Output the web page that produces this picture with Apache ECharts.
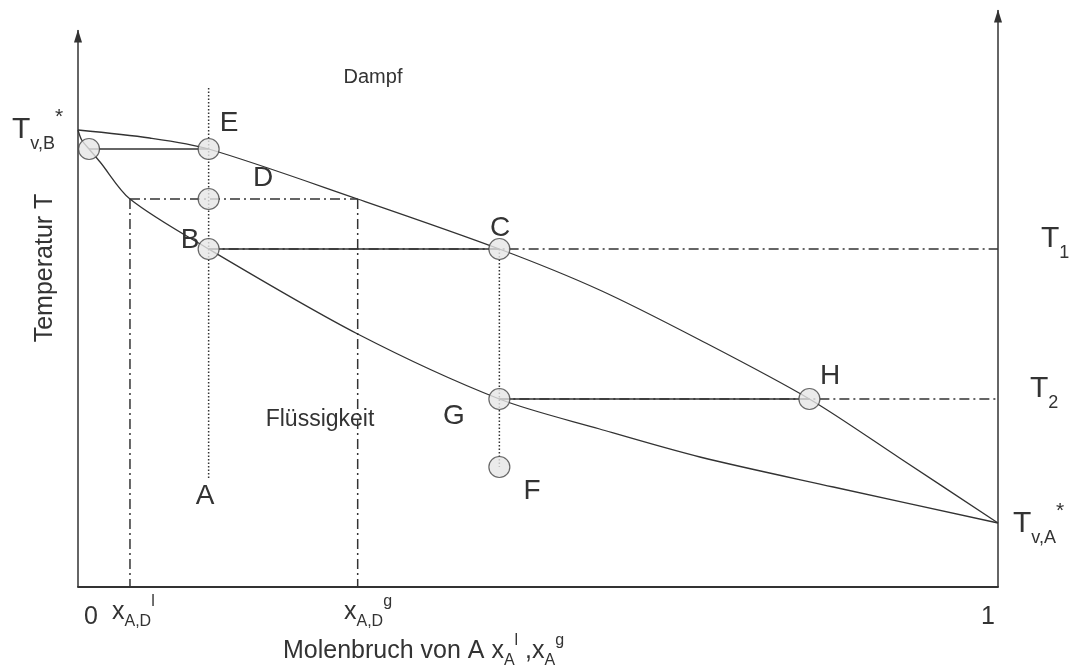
<!DOCTYPE html>
<html>
<head>
<meta charset="utf-8">
<script src="https://cdn.jsdelivr.net/npm/echarts@6/dist/echarts.min.js"></script>
<style>
  html, body { margin: 0; padding: 0; background: #fff; }
  #chart { width: 1075px; height: 671px; }
</style>
</head>
<body>
<div id="chart"></div>
<script>
// Siedediagramm: Molenbruch x_A (0..1), Temperatur in willkuerlichen Einheiten
const dewCurve = [[0, 457], [0.078, 449], [0.142, 438], [0.304, 388],
  [0.458, 338], [0.567, 297], [0.676, 247], [0.795, 188], [0.893, 129], [1, 64]];
const boilCurve = [[0, 457], [0.004, 447], [0.012, 438], [0.024, 425], [0.0565, 388], [0.142, 338],
  [0.304, 253], [0.458, 188], [0.567, 158], [0.676, 130], [0.821, 100], [1, 64]];

// Zusammensetzungen
const xLeft = 0.012, xA = 0.142, xDl = 0.0565, xDg = 0.304, xC = 0.458, xH = 0.795;
// Temperaturen
const TE = 438, TD = 388, T1 = 338, T2 = 188, TF = 120;
const dottedA = [[xA, 499], [xA, 109]];
const dottedC = [[xC, T1], [xC, TF]];
const points = [[xLeft, TE], [xA, TE], [xA, TD], [xA, T1], [xC, T1], [xC, T2], [xC, TF], [xH, T2]];
const yTop = 577, yLeftTop = 557;

const ink = '#333';
const dashDot = [10, 4, 2, 4];

function seg(data, type, width) {
  return {
    type: 'line', data, symbol: 'none', silent: true, z: 2,
    lineStyle: { color: ink, width: width || 1.3, type: type || 'solid' },
  };
}

function axisLine(x, top) {
  return {
    type: 'line', symbol: 'none', silent: true, z: 3,
    lineStyle: { color: ink, width: 1.5 },
    itemStyle: { color: ink },
    data: [[x, 0], { value: [x, top], symbol: 'triangle', symbolSize: [8, 13], symbolOffset: [0, 6] }],
  };
}

const font = '"Liberation Sans", Arial, sans-serif';
const rich = {
  m: { fontSize: 30, lineHeight: 46, fontFamily: font, fill: ink, verticalAlign: 'middle' },
  s: { fontSize: 18, lineHeight: 18, fontFamily: font, fill: ink, verticalAlign: 'bottom' },
  p: { fontSize: 21, lineHeight: 21, fontFamily: font, fill: ink, verticalAlign: 'top' },
  xm: { fontSize: 25, lineHeight: 36, fontFamily: font, fill: ink, verticalAlign: 'middle' },
  xs: { fontSize: 16, lineHeight: 16, fontFamily: font, fill: ink, verticalAlign: 'bottom' },
  xp: { fontSize: 16, lineHeight: 18, fontFamily: font, fill: ink, verticalAlign: 'top' },
};

function txt(text, x, y, size, align) {
  return {
    type: 'text', x, y, silent: true,
    style: { text, font: size + 'px ' + font, fill: ink, align: align || 'center', verticalAlign: 'middle' },
  };
}
function richTxt(text, x, y) {
  return {
    type: 'text', x, y, silent: true,
    style: { text, rich, fill: ink, align: 'left', verticalAlign: 'middle' },
  };
}

const chart = echarts.init(document.getElementById('chart'));
chart.setOption({
  backgroundColor: '#fff',
  animation: false,
  grid: { left: 78, right: 77, top: 10, bottom: 84 },
  xAxis: {
    type: 'value', min: 0, max: 1,
    axisLine: { show: true, lineStyle: { color: ink, width: 2 } },
    axisTick: { show: false }, axisLabel: { show: false }, splitLine: { show: false },
  },
  yAxis: { type: 'value', min: 0, max: yTop, show: false },
  series: [
    axisLine(0, yLeftTop),
    axisLine(1, yTop),
    { ...seg(dewCurve), smooth: 0.3 },
    { ...seg(boilCurve), smooth: 0.3 },
    seg([[xLeft, TE], [xA, TE]]),
    seg([[xA, T1], [xC, T1]]),
    seg([[xC, T2], [xH, T2]]),
    seg([[xA, T1], [1, T1]], dashDot, 1.6),
    seg([[xC, T2], [1, T2]], dashDot, 1.6),
    seg([[xDl, TD], [xDg, TD]], dashDot, 1.5),
    seg([[xDl, TD], [xDl, 0]], dashDot, 1.5),
    seg([[xDg, TD], [xDg, 0]], dashDot, 1.5),
    seg(dottedA, [1.5, 2], 1.5),
    seg(dottedC, [1.5, 2], 1.5),
    {
      type: 'scatter', data: points, symbol: 'circle', symbolSize: 21, z: 5, silent: true,
      itemStyle: { color: '#e6e6e6', borderColor: '#444', borderWidth: 1.2 },
    },
  ],
  graphic: [
    richTxt('{m|T}{s|v,B}{p|*}', 12, 130),
    richTxt('{m|T}{s|1}', 1041, 239),
    richTxt('{m|T}{s|2}', 1030, 389),
    richTxt('{m|T}{s|v,A}{p|*}', 1013, 524),
    txt('E', 229, 123, 28),
    txt('D', 263, 178, 28),
    txt('B', 190, 240, 28),
    txt('C', 500, 228, 28),
    txt('G', 454, 416, 28),
    txt('H', 830, 376, 28),
    txt('F', 532, 491, 28),
    txt('A', 205, 496, 28),
    txt('Dampf', 373, 77, 20),
    txt('Flüssigkeit', 320, 420, 23),
    txt('0', 91, 617, 25),
    txt('1', 988, 617, 25),
    richTxt('{xm|x}{xs|A,D}{xp|l}', 112, 612),
    richTxt('{xm|x}{xs|A,D}{xp|g}', 344, 612),
    richTxt('{xm|Molenbruch von A x}{xs|A}{xp|l}{xm| ,x}{xs|A}{xp|g}', 283, 651),
    {
      type: 'text', x: 45, y: 268, rotation: Math.PI / 2, silent: true,
      style: { text: 'Temperatur T', font: '25px ' + font, fill: ink, align: 'center', verticalAlign: 'middle' },
    },
  ],
});
</script>
</body>
</html>
